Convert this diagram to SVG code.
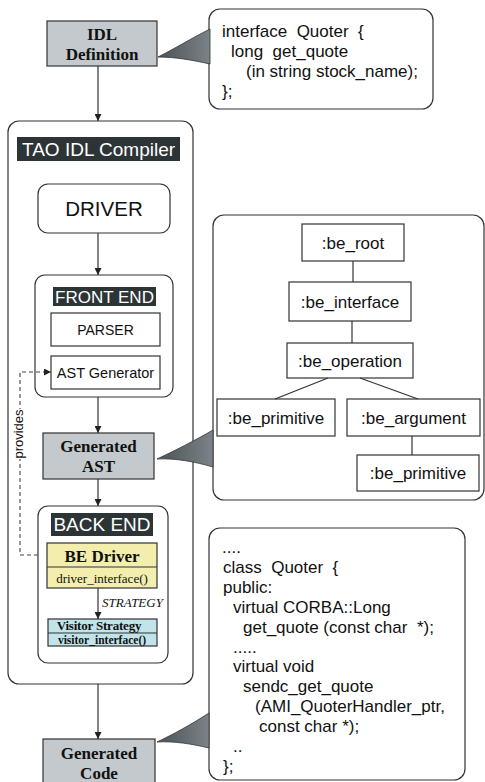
<svg xmlns="http://www.w3.org/2000/svg" width="485" height="782" viewBox="0 0 485 782">
<defs>
<marker id="ah" viewBox="0 0 10 10" refX="10" refY="5" markerWidth="7" markerHeight="7" orient="auto" markerUnits="userSpaceOnUse"><path d="M0,0 L10,5 L0,10 Z" fill="#222"/></marker>
<linearGradient id="wg" x1="0" y1="0" x2="1" y2="0"><stop offset="0" stop-color="#4a5256"/><stop offset="1" stop-color="#7b8388"/></linearGradient>
</defs>
<style>
.sans{font-family:"Liberation Sans",Arial,sans-serif}
.serif{font-family:"Liberation Serif","Times New Roman",serif}
.box{fill:#fff;stroke:#333;stroke-width:1.2}
.gray{fill:#c3c9cc;stroke:#333;stroke-width:1.2}
.lbl{fill:#2d3436}
.wt{fill:#fff}
.code{font-family:"Liberation Sans",Arial,sans-serif;font-size:17px;fill:#111;white-space:pre}
.node{font-family:"Liberation Sans",Arial,sans-serif;font-size:17px;fill:#111;text-anchor:middle}
.cl{stroke:#333;stroke-width:1.2;fill:none}
.wedge{fill:url(#wg);stroke:#333;stroke-width:0.8}
.bt{font-family:"Liberation Serif","Times New Roman",serif;font-weight:bold;font-size:17px;fill:#111;text-anchor:middle}
</style>
<rect width="485" height="782" fill="#fff"/>

<g id="idl-definition">
<rect class="gray" x="47" y="21" width="110" height="45"/>
<text class="bt" x="102" y="40">IDL</text>
<text class="bt" x="102" y="60">Definition</text>
</g>

<g id="idl-callout">
<rect class="box" x="209" y="9" width="224" height="100" rx="11"/>
<path class="wedge" d="M210,29 C192,38 172,50 158,57 C175,57 192,60 210,64 Z"/>
<text class="code" x="222" y="37">interface  Quoter  {</text>
<text class="code" x="231" y="57">long  get_quote</text>
<text class="code" x="246" y="77">(in string stock_name);</text>
<text class="code" x="222" y="97">};</text>
</g>

<g id="tao-idl-compiler">
<rect class="box" x="8" y="121" width="185" height="563" rx="11"/>
<rect class="lbl" x="17" y="137" width="163" height="24"/>
<text class="sans wt" x="98.5" y="156" font-size="19" text-anchor="middle">TAO IDL Compiler</text>
</g>

<g id="driver">
<rect class="box" x="38" y="184" width="132" height="49" rx="10"/>
<text class="sans" x="104" y="216" font-size="20.5" text-anchor="middle" fill="#111">DRIVER</text>
</g>

<g id="front-end">
<rect class="box" x="35" y="275" width="138" height="122" rx="10"/>
<rect class="lbl" x="53" y="287" width="103" height="19"/>
<text class="sans wt" x="104.5" y="303" font-size="17" text-anchor="middle">FRONT END</text>
</g>

<g id="parser">
<rect class="box" x="51" y="313" width="109" height="33"/>
<text class="sans" x="105.5" y="335" font-size="14" text-anchor="middle" fill="#111">PARSER</text>
</g>

<g id="ast-generator">
<rect class="box" x="51" y="356" width="109" height="33"/>
<text class="sans" x="105.5" y="378" font-size="14.5" text-anchor="middle" fill="#111">AST Generator</text>
</g>

<g id="generated-ast">
<rect class="gray" x="43" y="433" width="111" height="46"/>
<text class="bt" x="98.5" y="452">Generated</text>
<text class="bt" x="98.5" y="472">AST</text>
</g>

<g id="ast-callout">
<rect class="box" x="213" y="215" width="271" height="285" rx="11"/>
<path class="wedge" d="M213,430 C196,440 172,452 157,459 C176,458 196,462 213,467 Z"/>
</g>

<g id="be-root">
<rect class="box" x="302" y="224" width="102" height="37"/>
<text class="node" x="353" y="249">:be_root</text>
</g>
<g id="be-interface">
<rect class="box" x="289" y="282" width="122" height="39"/>
<text class="node" x="350" y="308">:be_interface</text>
</g>
<g id="be-operation">
<rect class="box" x="287" y="343" width="126" height="35"/>
<text class="node" x="350" y="367">:be_operation</text>
</g>
<g id="be-primitive-1">
<rect class="box" x="217" y="399" width="118" height="37"/>
<text class="node" x="276" y="424">:be_primitive</text>
</g>
<g id="be-argument">
<rect class="box" x="347" y="399" width="133" height="37"/>
<text class="node" x="413.5" y="424">:be_argument</text>
</g>
<g id="be-primitive-2">
<rect class="box" x="357" y="455" width="122" height="36"/>
<text class="node" x="418" y="479">:be_primitive</text>
</g>

<g id="back-end">
<rect class="box" x="38" y="506" width="130" height="157" rx="10"/>
<rect class="lbl" x="51" y="513" width="102" height="23"/>
<text class="sans wt" x="102" y="531" font-size="19" text-anchor="middle">BACK END</text>
</g>

<g id="be-driver">
<rect x="47" y="543" width="110" height="45" fill="#f3eeae" stroke="#333" stroke-width="1.2"/>
<line x1="47" y1="567" x2="157" y2="567" stroke="#333" stroke-width="1"/>
<text class="bt" x="102" y="562">BE Driver</text>
<text class="serif" x="102" y="583" font-size="13" text-anchor="middle" fill="#111">driver_interface()</text>
</g>

<g id="visitor-strategy">
<rect x="48" y="619" width="109" height="27" fill="#c0e4e9" stroke="#333" stroke-width="1.2"/>
<line x1="48" y1="633" x2="157" y2="633" stroke="#333" stroke-width="1"/>
<text class="serif" x="99" y="630" font-size="13" font-weight="bold" text-anchor="middle" fill="#111" letter-spacing="-0.2">Visitor Strategy</text>
<text class="serif" x="102" y="644" font-size="11.5" font-weight="bold" text-anchor="middle" fill="#111">visitor_interface()</text>
</g>

<g id="generated-code">
<rect class="gray" x="43" y="739" width="112" height="50"/>
<text class="bt" x="99" y="759">Generated</text>
<text class="bt" x="99" y="779">Code</text>
</g>

<g id="code-callout">
<rect class="box" x="209" y="528" width="256" height="252" rx="11"/>
<path class="wedge" d="M209,713 C192,724 172,735 157,742 C175,741 192,744 209,748 Z"/>
<text class="code" x="222" y="553">....</text>
<text class="code" x="223" y="573">class  Quoter  {</text>
<text class="code" x="223" y="593">public:</text>
<text class="code" x="233" y="613">virtual CORBA::Long</text>
<text class="code" x="243" y="633">get_quote (const char  *);</text>
<text class="code" x="233" y="653">.....</text>
<text class="code" x="233" y="672">virtual void</text>
<text class="code" x="243" y="692">sendc_get_quote</text>
<text class="code" x="255" y="712">(AMI_QuoterHandler_ptr,</text>
<text class="code" x="259" y="732">const char *);</text>
<text class="code" x="233" y="752">..</text>
<text class="code" x="223" y="772">};</text>
</g>

<g id="connectors">
<line class="cl" x1="98" y1="66" x2="98" y2="121" marker-end="url(#ah)"/>
<line class="cl" x1="98" y1="233" x2="98" y2="275" marker-end="url(#ah)"/>
<line class="cl" x1="98" y1="397" x2="98" y2="433" marker-end="url(#ah)"/>
<line class="cl" x1="98" y1="479" x2="98" y2="506" marker-end="url(#ah)"/>
<line class="cl" x1="98" y1="588" x2="98" y2="619" marker-end="url(#ah)"/>
<line class="cl" x1="98" y1="684" x2="98" y2="739" marker-end="url(#ah)"/>
<line class="cl" x1="353" y1="261" x2="353" y2="282"/>
<line class="cl" x1="352" y1="321" x2="352" y2="343"/>
<line class="cl" x1="328" y1="378" x2="275" y2="399"/>
<line class="cl" x1="360" y1="378" x2="418" y2="399"/>
<line class="cl" x1="412" y1="436" x2="412" y2="455"/>
<path d="M38,555 L20,555 L20,372 L51,372" fill="none" stroke="#444" stroke-width="1.1" stroke-dasharray="4,3" marker-end="url(#ah)"/>
<rect x="12" y="409" width="14" height="50" fill="#fff"/>
<text class="sans" transform="translate(23,434) rotate(-90)" font-size="13" text-anchor="middle" fill="#111">provides</text>
<text class="serif" x="102" y="607" font-size="13" font-style="italic" fill="#111">STRATEGY</text>
</g>
</svg>
